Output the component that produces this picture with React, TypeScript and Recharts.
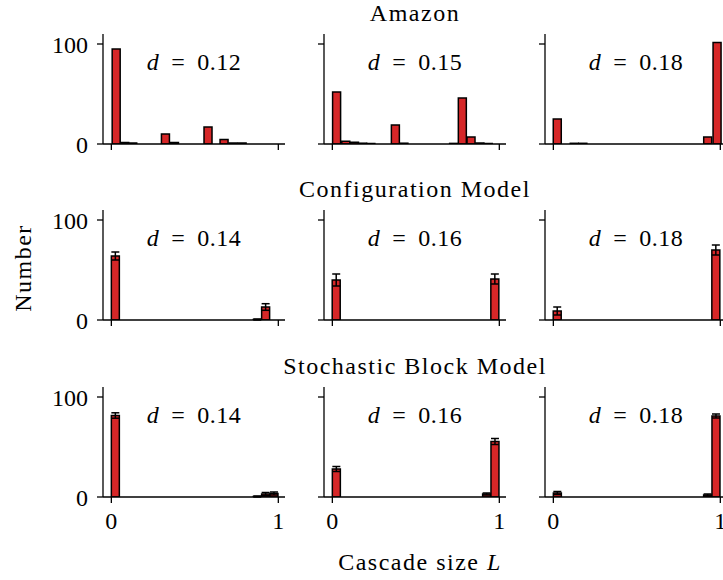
import { BarChart, Bar, XAxis, YAxis, ErrorBar } from 'recharts';

// --- data (bin centres on L, counts, error half-widths) ---
const rowTitles = ['Amazon', 'Configuration Model', 'Stochastic Block Model'];
const degrees = [
  ['0.12', '0.15', '0.18'],
  ['0.14', '0.16', '0.18'],
  ['0.14', '0.16', '0.18'],
];

// Amazon
const amazon12X = [0.029, 0.08, 0.128, 0.324, 0.378, 0.579, 0.675, 0.729, 0.783];
const amazon12N = [95, 1.5, 1, 10, 1.5, 17, 4.5, 1, 1];
const amazon15X = [0.026, 0.081, 0.133, 0.182, 0.231, 0.378, 0.429, 0.727, 0.779, 0.831, 0.884, 0.934];
const amazon15N = [52, 2.7, 1.7, 0.8, 0.5, 19, 0.8, 0.6, 46, 7, 1, 0.5];
const amazon18X = [0.025, 0.127, 0.178, 0.926, 0.982];
const amazon18N = [25, 0.7, 0.7, 7, 101.5];

// Configuration model
const config14X = [0.025, 0.875, 0.925];
const config14N = [64, 0.5, 13];
const config14E = [4, 0.5, 3.3];
const config16X = [0.025, 0.975];
const config16N = [40, 41];
const config16E = [6, 5];
const config18X = [0.025, 0.975];
const config18N = [9, 70];
const config18E = [4, 5];

// Stochastic block model
const sbm14X = [0.025, 0.875, 0.925, 0.975];
const sbm14N = [81.5, 0.5, 3, 3.5];
const sbm14E = [2.7, 0.5, 1.5, 1.5];
const sbm16X = [0.025, 0.925, 0.975];
const sbm16N = [28, 3, 55.5];
const sbm16E = [2.5, 1, 3];
const sbm18X = [0.025, 0.925, 0.975];
const sbm18N = [4, 2, 81];
const sbm18E = [1.5, 1, 2];

const xTicks = [0, 1];
const yTicks = [0, 100];
const xDomain = [-0.05, 1.04];
const yDomain = [0, 110];

type Hist = { x: number[]; n: number[]; err?: number[] };

const panels: Hist[][] = [
  [
    { x: amazon12X, n: amazon12N },
    { x: amazon15X, n: amazon15N },
    { x: amazon18X, n: amazon18N },
  ],
  [
    { x: config14X, n: config14N, err: config14E },
    { x: config16X, n: config16N, err: config16E },
    { x: config18X, n: config18N, err: config18E },
  ],
  [
    { x: sbm14X, n: sbm14N, err: sbm14E },
    { x: sbm16X, n: sbm16N, err: sbm16E },
    { x: sbm18X, n: sbm18N, err: sbm18E },
  ],
];

// --- layout ---
const serif = "'Liberation Serif', 'DejaVu Serif', serif";
const red = '#d62728';
const colLeft = [103, 324, 545];
const rowTop = [34, 210, 387];
const plotW = 182;
const plotH = 110;
const YW = 80;
const XH = 45;
const M = 4;

const axisLine = { stroke: '#000', strokeWidth: 1.3 };
const tickFont = { fontFamily: serif, fontSize: 24, fill: '#000' };

function Panel({ row, col }: { row: number; col: number }) {
  const h = panels[row][col];
  const data = h.x.map((x, i) => ({ x, n: h.n[i], err: h.err ? h.err[i] : 0 }));
  const showX = row === 2;
  const showY = col === 0;
  return (
    <div style={{ position: 'absolute', left: colLeft[col] - YW, top: rowTop[row] - M }}>
      <BarChart
        width={YW + plotW + M}
        height={M + plotH + XH}
        data={data}
        margin={{ top: M, right: M, bottom: 0, left: 0 }}
        barGap={0}
      >
        <XAxis
          dataKey="x"
          type="number"
          domain={xDomain}
          ticks={xTicks}
          allowDataOverflow
          interval={0}
          height={XH}
          tickSize={6}
          tickMargin={9}
          tickLine={axisLine}
          axisLine={axisLine}
          tick={tickFont}
          tickFormatter={(v: number) => (showX ? String(v) : '')}
        />
        <XAxis
          xAxisId="top"
          orientation="top"
          type="number"
          domain={xDomain}
          allowDataOverflow
          height={0}
          tick={false}
          tickLine={false}
          axisLine={axisLine}
        />
        <YAxis
          type="number"
          domain={yDomain}
          ticks={yTicks}
          allowDataOverflow
          interval={0}
          width={YW}
          tickSize={6}
          tickMargin={9}
          tickLine={axisLine}
          axisLine={axisLine}
          tick={tickFont}
          tickFormatter={(v: number) => (showY ? String(v) : '')}
        />
        <YAxis
          yAxisId="right"
          orientation="right"
          type="number"
          domain={yDomain}
          allowDataOverflow
          width={0}
          tick={false}
          tickLine={false}
          axisLine={axisLine}
        />
        <Bar dataKey="n" fill={red} stroke="#000" strokeWidth={1.5} barSize={8} isAnimationActive={false}>
          {h.err && (
            <ErrorBar dataKey="err" direction="y" width={4} stroke="#000" strokeWidth={1.5} isAnimationActive={false} />
          )}
        </Bar>
      </BarChart>
    </div>
  );
}

const label = (x: number, y: number, extra: React.CSSProperties = {}): React.CSSProperties => ({
  position: 'absolute',
  left: x,
  top: y,
  transform: 'translate(-50%, -50%)',
  fontFamily: serif,
  fontSize: 24,
  lineHeight: 1,
  letterSpacing: 1.5,
  whiteSpace: 'nowrap',
  color: '#000',
  ...extra,
});

export default function App() {
  return (
    <div style={{ position: 'relative', width: 723, height: 580, overflow: 'hidden', background: '#fff' }}>
      <style>{'body{margin:0}'}</style>
      {panels.map((r, row) =>
        r.map((_, col) => <Panel key={`${row}-${col}`} row={row} col={col} />)
      )}
      {rowTitles.map((t, row) => (
        <div key={t} style={label(415, rowTop[row] - 21)}>
          {t}
        </div>
      ))}
      {degrees.map((r, row) =>
        r.map((d, col) => (
          <div key={`d${row}${col}`} style={label(colLeft[col] + plotW / 2, rowTop[row] + 28, { letterSpacing: 0.5 })}>
            <i>d</i>
            <span style={{ margin: '0 12px' }}>=</span>
            {d}
          </div>
        ))
      )}
      <div style={label(23, 268, { transform: 'translate(-50%, -50%) rotate(-90deg)' })}>Number</div>
      <div style={label(420, 562)}>
        Cascade size <i>L</i>
      </div>
    </div>
  );
}
